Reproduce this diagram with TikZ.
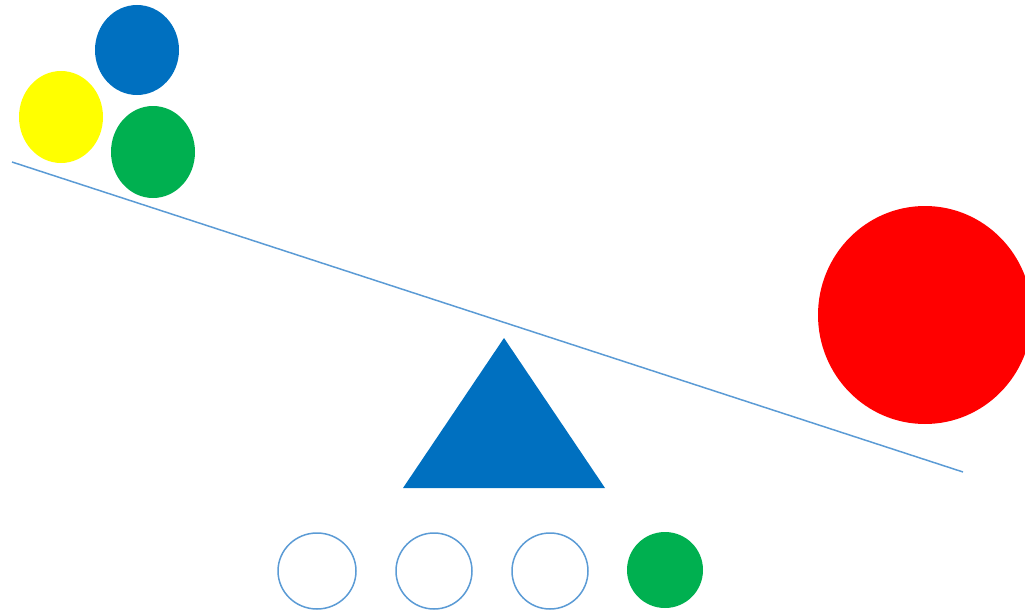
\documentclass[tikz,border=0pt]{standalone}
\begin{document}
\begin{tikzpicture}[x=1pt,y=-1pt]
\definecolor{dblue}{HTML}{0070C0}
\definecolor{lblue}{HTML}{5B9BD5}
\definecolor{dgreen}{HTML}{00B050}
\definecolor{pyellow}{HTML}{FFFF00}
\definecolor{pred}{HTML}{FF0000}
\tikzset{ring/.style={draw=lblue,line width=1.5pt,fill=white}}
\useasboundingbox (0,0) rectangle (1025,610);
\clip (0,0) rectangle (1025,610);
\fill[dblue] (137,50) ellipse [x radius=42, y radius=45];
\fill[pyellow] (61,117) ellipse [x radius=42, y radius=46];
\fill[dgreen] (153,152) ellipse [x radius=42, y radius=46];
\coordinate (L) at (12,162);
\coordinate (R) at (963,472);
\draw[lblue,line width=1.5pt] (L) -- (R);
\fill[pred] (925,315) ellipse [x radius=107, y radius=109];
\fill[dblue] (504,338) -- (605,488) -- (403,488) -- cycle;
\draw[ring] (317,571) ellipse [x radius=39, y radius=38];
\draw[ring] (434,571) ellipse [x radius=38, y radius=38];
\draw[ring] (550,571) ellipse [x radius=38, y radius=38];
\fill[dgreen] (665,570) ellipse [x radius=38, y radius=38];
\end{tikzpicture}
\end{document}
